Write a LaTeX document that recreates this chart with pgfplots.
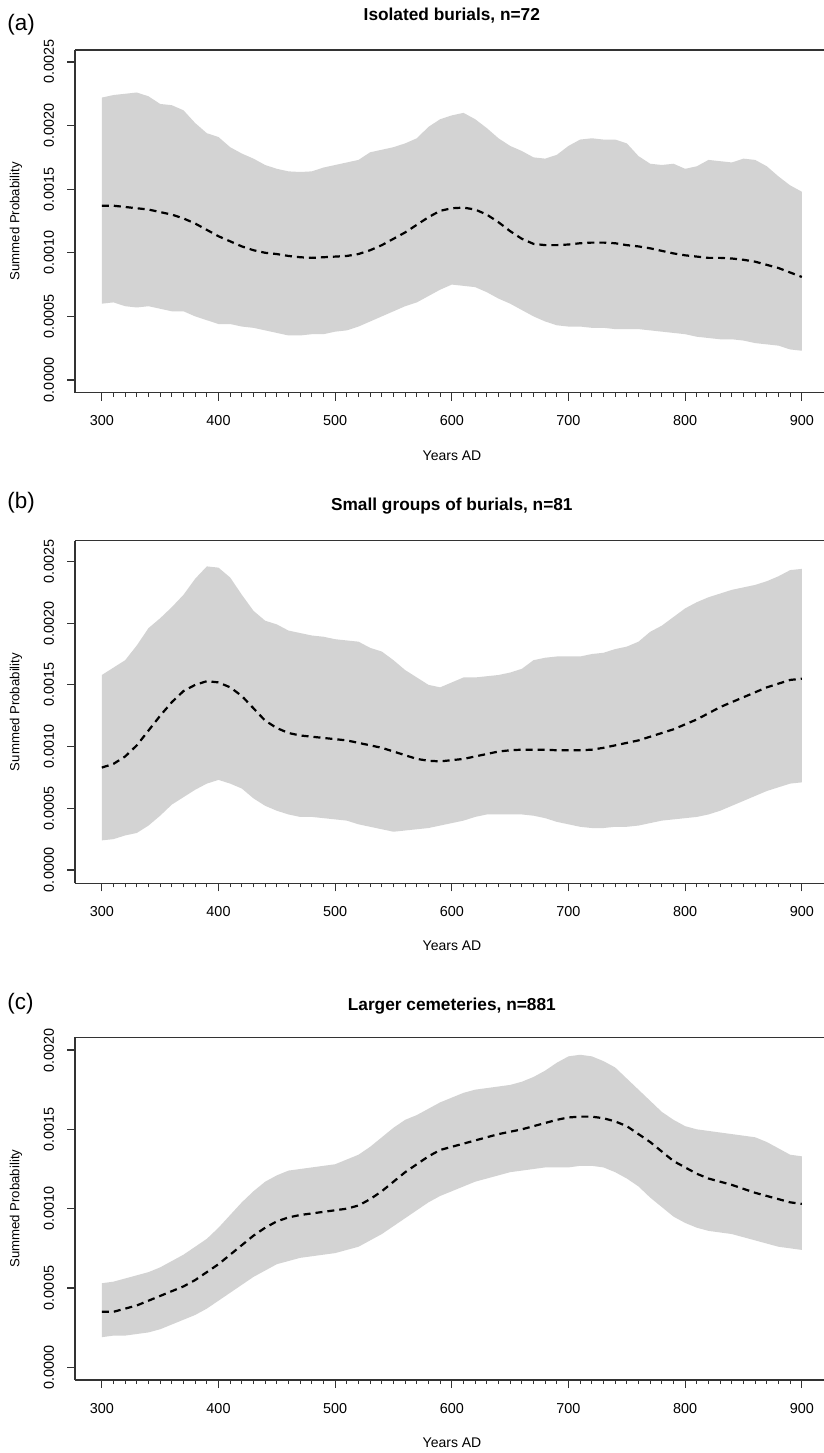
\documentclass[border=0pt]{standalone}
\usepackage{fontspec}
\setmainfont{Liberation Sans}
\usepackage{pgfplots}
\pgfplotsset{compat=1.18}
\usepackage{pgfplotstable}
\usepgfplotslibrary{fillbetween}
\definecolor{lgray}{RGB}{211,211,211}

\pgfplotstableread{
year up mean lo
300 22.2 13.7 6.0
310 22.4 13.7 6.1
320 22.5 13.6 5.8
330 22.6 13.5 5.7
340 22.3 13.4 5.8
350 21.7 13.2 5.6
360 21.6 13.0 5.4
370 21.2 12.7 5.4
380 20.2 12.3 5.0
390 19.4 11.8 4.7
400 19.1 11.3 4.4
410 18.3 10.9 4.4
420 17.8 10.5 4.2
430 17.4 10.2 4.1
440 16.9 10.0 3.9
450 16.6 9.9 3.7
460 16.4 9.75 3.5
470 16.35 9.65 3.5
480 16.4 9.6 3.6
490 16.7 9.65 3.6
500 16.9 9.7 3.8
510 17.1 9.75 3.9
520 17.3 9.9 4.2
530 17.9 10.2 4.6
540 18.1 10.6 5.0
550 18.3 11.1 5.4
560 18.6 11.6 5.8
570 19.0 12.2 6.1
580 19.9 12.8 6.6
590 20.5 13.3 7.1
600 20.8 13.5 7.5
610 21.0 13.55 7.4
620 20.5 13.4 7.3
630 19.8 13.0 6.9
640 19.0 12.4 6.4
650 18.4 11.7 6.0
660 18.0 11.1 5.5
670 17.5 10.7 5.0
680 17.4 10.6 4.6
690 17.7 10.6 4.3
700 18.4 10.65 4.2
710 18.9 10.75 4.2
720 19.0 10.8 4.1
730 18.9 10.8 4.1
740 18.9 10.75 4.0
750 18.6 10.6 4.0
760 17.6 10.5 4.0
770 17.0 10.35 3.9
780 16.9 10.15 3.8
790 17.0 9.95 3.7
800 16.6 9.8 3.6
810 16.8 9.7 3.4
820 17.3 9.6 3.3
830 17.2 9.6 3.2
840 17.1 9.55 3.2
850 17.4 9.45 3.1
860 17.3 9.3 2.9
870 16.8 9.05 2.8
880 16.0 8.8 2.7
890 15.3 8.45 2.4
900 14.8 8.1 2.3
}\tabA

\pgfplotstableread{
year up mean lo
300 15.8 8.3 2.4
310 16.4 8.6 2.5
320 17.0 9.2 2.8
330 18.2 10.1 3.0
340 19.6 11.3 3.6
350 20.4 12.5 4.4
360 21.3 13.6 5.3
370 22.3 14.5 5.9
380 23.6 15.0 6.5
390 24.6 15.3 7.0
400 24.5 15.2 7.3
410 23.7 14.8 7.0
420 22.3 14.1 6.6
430 21.0 13.1 5.8
440 20.2 12.1 5.2
450 19.9 11.5 4.8
460 19.4 11.1 4.5
470 19.2 10.9 4.3
480 19.0 10.8 4.3
490 18.9 10.7 4.2
500 18.7 10.6 4.1
510 18.6 10.5 4.0
520 18.5 10.3 3.7
530 18.0 10.1 3.5
540 17.7 9.9 3.3
550 17.0 9.6 3.1
560 16.2 9.3 3.2
570 15.6 9.0 3.3
580 15.0 8.85 3.4
590 14.8 8.8 3.6
600 15.2 8.9 3.8
610 15.6 9.0 4.0
620 15.6 9.2 4.3
630 15.7 9.4 4.5
640 15.8 9.6 4.5
650 16.0 9.7 4.5
660 16.3 9.75 4.5
670 17.0 9.75 4.4
680 17.2 9.75 4.2
690 17.3 9.7 3.9
700 17.3 9.7 3.7
710 17.3 9.7 3.5
720 17.5 9.75 3.4
730 17.6 9.9 3.4
740 17.9 10.1 3.5
750 18.1 10.3 3.5
760 18.5 10.5 3.6
770 19.3 10.8 3.8
780 19.8 11.1 4.0
790 20.5 11.4 4.1
800 21.2 11.8 4.2
810 21.7 12.2 4.3
820 22.1 12.7 4.5
830 22.4 13.2 4.8
840 22.7 13.6 5.2
850 22.9 14.0 5.6
860 23.1 14.4 6.0
870 23.4 14.8 6.4
880 23.8 15.1 6.7
890 24.3 15.4 7.0
900 24.4 15.5 7.1
}\tabB

\pgfplotstableread{
year up mean lo
300 5.3 3.5 1.9
310 5.4 3.5 2.0
320 5.6 3.7 2.0
330 5.8 3.9 2.1
340 6.0 4.2 2.2
350 6.3 4.5 2.4
360 6.7 4.8 2.7
370 7.1 5.1 3.0
380 7.6 5.5 3.3
390 8.1 6.0 3.7
400 8.8 6.5 4.2
410 9.6 7.1 4.7
420 10.4 7.7 5.2
430 11.1 8.3 5.7
440 11.7 8.8 6.1
450 12.1 9.2 6.5
460 12.4 9.45 6.7
470 12.5 9.6 6.9
480 12.6 9.7 7.0
490 12.7 9.8 7.1
500 12.8 9.9 7.2
510 13.1 10.0 7.4
520 13.4 10.2 7.6
530 13.9 10.6 8.0
540 14.5 11.1 8.4
550 15.1 11.7 8.9
560 15.6 12.3 9.4
570 15.9 12.8 9.9
580 16.3 13.3 10.4
590 16.7 13.7 10.8
600 17.0 13.9 11.1
610 17.3 14.1 11.4
620 17.5 14.3 11.7
630 17.6 14.5 11.9
640 17.7 14.7 12.1
650 17.8 14.85 12.3
660 18.0 15.0 12.4
670 18.3 15.2 12.5
680 18.7 15.4 12.6
690 19.2 15.6 12.6
700 19.6 15.75 12.6
710 19.7 15.8 12.7
720 19.6 15.8 12.7
730 19.3 15.7 12.6
740 18.9 15.5 12.3
750 18.2 15.2 11.9
760 17.5 14.7 11.4
770 16.8 14.2 10.7
780 16.1 13.6 10.1
790 15.6 13.0 9.5
800 15.2 12.6 9.1
810 15.0 12.2 8.8
820 14.9 11.9 8.6
830 14.8 11.7 8.5
840 14.7 11.5 8.4
850 14.6 11.25 8.2
860 14.5 11.0 8.0
870 14.2 10.8 7.8
880 13.8 10.6 7.6
890 13.4 10.4 7.5
900 13.3 10.3 7.4
}\tabC

\pgfplotsset{
  rplot/.style={
    scale only axis,
    width=374.5pt, height=171.35pt,
    anchor=south west,
    xmin=277, xmax=919,
    axis x line*=bottom, axis y line*=left,
    axis line style={line width=0.6pt, black!80},
    every tick/.style={line width=0.6pt, black!80},
    tick align=outside,
    major tick length=4pt, minor tick length=2pt,
    xtick={300,400,...,900},
    minor x tick num=9,
    /pgf/number format/assume math mode=true,
    tick label style={font=\fontsize{7.2}{8.6}\selectfont},
    xticklabel shift=4pt,
    yticklabel style={rotate=90, anchor=south},
    yticklabel shift=3pt,
    xlabel={Years AD},
    ylabel={Summed Probability},
    xlabel style={font=\fontsize{7.0}{8.4}\selectfont, at={(axis description cs:0.5034,-0.183)}, anchor=center},
    ylabel style={font=\fontsize{6.6}{8}\selectfont, at={(axis description cs:-0.0788,0.5)}, anchor=center},
    clip=false,
  },
  env/.style={fill=lgray, draw=none},
  mline/.style={black, line width=1.1pt, dash pattern=on 3.5pt off 2.5pt},
}

\begin{document}
\begin{tikzpicture}

% Panel (a)
\begin{axis}[rplot, at={(37.5pt,-196.35pt)},
  ymin=-1.0, ymax=25.94,
  ytick={0,5,10,15,20,25},
  yticklabels={0.0000,0.0005,0.0010,0.0015,0.0020,0.0025}]
\addplot[name path=ua, draw=none] table[x=year,y=up] {\tabA};
\addplot[name path=la, draw=none] table[x=year,y=lo] {\tabA};
\addplot[env] fill between[of=ua and la];
\addplot[mline] table[x=year,y=mean] {\tabA};
\draw[line width=0.6pt, black!80] (rel axis cs:0,1) -- (rel axis cs:1,1);
\node[font=\bfseries\fontsize{8.64}{10}\selectfont, anchor=center] at (axis cs:600,25.94) [yshift=17pt] {Isolated burials, n=72};
\end{axis}

% Panel (b)
\begin{axis}[rplot, at={(37.5pt,-441.65pt)},
  ymin=-1.08, ymax=26.69,
  ytick={0,5,10,15,20,25},
  yticklabels={0.0000,0.0005,0.0010,0.0015,0.0020,0.0025}]
\addplot[name path=ub, draw=none] table[x=year,y=up] {\tabB};
\addplot[name path=lb, draw=none] table[x=year,y=lo] {\tabB};
\addplot[env] fill between[of=ub and lb];
\addplot[mline] table[x=year,y=mean] {\tabB};
\draw[line width=0.6pt, black!80] (rel axis cs:0,1) -- (rel axis cs:1,1);
\node[font=\bfseries\fontsize{8.64}{10}\selectfont, anchor=center] at (axis cs:600,26.69) [yshift=17.5pt] {Small groups of burials, n=81};
\end{axis}

% Panel (c)
\begin{axis}[rplot, at={(37.5pt,-690pt)},
  ymin=-0.80, ymax=20.8,
  ytick={0,5,10,15,20},
  yticklabels={0.0000,0.0005,0.0010,0.0015,0.0020}]
\addplot[name path=uc, draw=none] table[x=year,y=up] {\tabC};
\addplot[name path=lc, draw=none] table[x=year,y=lo] {\tabC};
\addplot[env] fill between[of=uc and lc];
\addplot[mline] table[x=year,y=mean] {\tabC};
\draw[line width=0.6pt, black!80] (rel axis cs:0,1) -- (rel axis cs:1,1);
\node[font=\bfseries\fontsize{8.64}{10}\selectfont, anchor=center] at (axis cs:600,20.8) [yshift=15.5pt] {Larger cemeteries, n=881};
\end{axis}

\node[anchor=west, inner sep=0pt, font=\fontsize{11.2}{12}\selectfont] at (3.5pt,-12.5pt) {(a)};
\node[anchor=west, inner sep=0pt, font=\fontsize{11.2}{12}\selectfont] at (3.5pt,-251.5pt) {(b)};
\node[anchor=west, inner sep=0pt, font=\fontsize{11.2}{12}\selectfont] at (3.5pt,-502pt) {(c)};

\pgfresetboundingbox
\path[use as bounding box] (0,0) rectangle (412pt,-726.5pt);
\end{tikzpicture}
\end{document}
